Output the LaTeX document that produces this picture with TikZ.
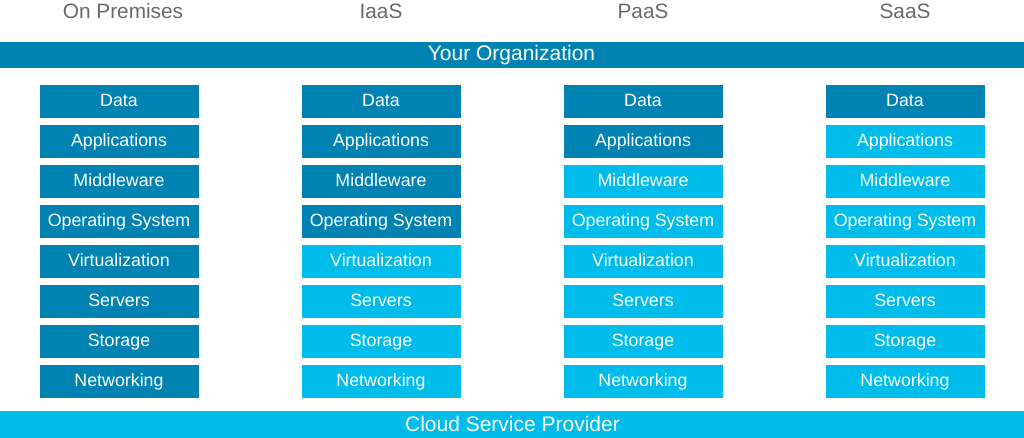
\documentclass[tikz,border=0pt]{standalone}
\usepackage{fontspec}
\setmainfont{Liberation Sans}
\definecolor{darkblue}{HTML}{0083B3}
\definecolor{lightblue}{HTML}{00BCEA}
\definecolor{headgray}{HTML}{6A6A6A}
\begin{document}
\begin{tikzpicture}[x=1pt,y=-1pt,
  layer/.style={rectangle,inner sep=0pt,minimum width=159pt,minimum height=33pt,
    text=white,font=\fontsize{17.8}{20}\selectfont,text height=13pt,text depth=2.4pt},
  dk/.style={layer,fill=darkblue},
  lt/.style={layer,fill=lightblue},
  head/.style={anchor=base,text=headgray,font=\fontsize{20.8}{24}\selectfont,inner sep=0pt},
  bandtext/.style={anchor=base,text=white,font=\fontsize{21}{24}\selectfont,inner sep=0pt}]
\useasboundingbox (0,0) rectangle (1024,438);
% headers
\node[head] (h1) at (123,19) {On Premises};
\node[head] (h2) at (381,19) {IaaS};
\node[head] (h3) at (643,19) {PaaS};
\node[head] (h4) at (905,19) {SaaS};
% bands
\fill[darkblue] (0,41.7) rectangle (1024,68);
\node[bandtext] (org) at (511.5,61) {Your Organization};
\fill[lightblue] (0,411) rectangle (1024,438);
\node[bandtext] (csp) at (512.5,431.7) {Cloud Service Provider};
% layers
\def\names{{"Data","Applications","Middleware","Operating System","Virtualization","Servers","Storage","Networking"}}
\foreach \c/\x/\nd in {1/119/8, 2/381/4, 3/643/2, 4/905/1}{
  \foreach \r [evaluate=\r as \y using 101.5+40*(\r-1)] in {1,...,8}{
    \pgfmathsetmacro{\lbl}{\names[\r-1]}
    \ifnum\r>\nd
      \node[lt] (b\c\r) at (\x,\y) {\lbl};
    \else
      \node[dk] (b\c\r) at (\x,\y) {\lbl};
    \fi
  }
}
\end{tikzpicture}
\end{document}
